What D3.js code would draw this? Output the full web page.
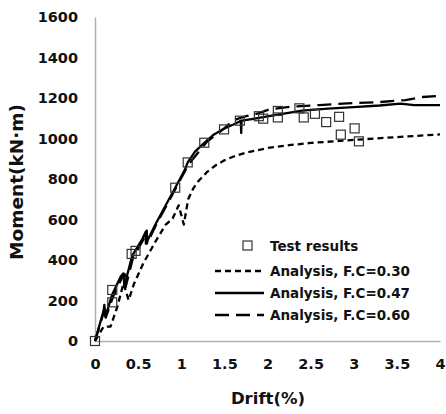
<!DOCTYPE html>
<html>
<head>
<meta charset="utf-8">
<script src="https://cdn.jsdelivr.net/npm/d3@7"></script>
<style>
  body { margin: 0; background: #fff; }
  text { font-family: "DejaVu Sans", sans-serif; font-weight: bold; fill: #111; }
</style>
</head>
<body>
<div id="chart"></div>
<script>
// test results (drift %, moment kN·m)
const testDrift  = [0, 0.2, 0.2, 0.425, 0.47, 0.93, 1.075, 1.267, 1.496, 1.68, 1.90, 1.95, 2.12, 2.12, 2.37, 2.42, 2.55, 2.68, 2.83, 2.85, 3.01, 3.06];
const testMoment = [0, 191, 252, 430, 445, 757, 882, 979, 1045, 1088, 1110, 1098, 1136, 1104, 1149, 1104, 1122, 1081, 1107, 1019, 1050, 986];

// analysis F.C=0.30
const fc30Drift  = [0, 0.1, 0.18, 0.26, 0.33, 0.39, 0.45, 0.56, 0.7, 0.82, 0.86, 0.9, 0.97, 1.03, 1.08, 1.14, 1.2, 1.3, 1.4, 1.5, 1.6, 1.75, 2.0, 2.25, 2.5, 3.0, 3.5, 4.0];
const fc30Moment = [0, 71, 71, 170, 285, 202, 280, 384, 490, 575, 590, 605, 670, 575, 700, 754, 790, 835, 868, 892, 910, 930, 953, 967, 978, 993, 1007, 1020];

// analysis F.C=0.47
const fc47Drift  = [0, 0.1, 0.108, 0.12, 0.2, 0.3, 0.33, 0.34, 0.43, 0.55, 0.588, 0.59, 0.7, 0.82, 0.93, 1.04, 1.075, 1.16, 1.267, 1.38, 1.5, 1.6, 1.68, 1.69, 1.695, 1.7, 1.8, 1.95, 2.12, 2.4, 2.7, 3.0, 3.3, 3.54, 3.7, 4.0];
const fc47Moment = [0, 150, 178, 120, 230, 320, 334, 270, 420, 505, 540, 480, 575, 670, 757, 844, 882, 935, 979, 1020, 1050, 1068, 1085, 1088, 1027, 1088, 1095, 1105, 1118, 1138, 1148, 1155, 1163, 1172, 1165, 1165];

// analysis F.C=0.60
const fc60Drift  = [0, 0.1, 0.112, 0.125, 0.21, 0.31, 0.345, 0.355, 0.44, 0.56, 0.6, 0.605, 0.71, 0.83, 0.94, 1.05, 1.1, 1.3, 1.5, 1.6, 1.75, 1.9, 2.03, 2.3, 2.6, 3.0, 3.3, 3.6, 3.8, 4.0];
const fc60Moment = [0, 140, 170, 115, 220, 310, 330, 265, 410, 500, 545, 482, 575, 670, 757, 845, 880, 985, 1050, 1090, 1110, 1125, 1145, 1158, 1165, 1175, 1180, 1190, 1205, 1210];

const xTicks = [0, 0.5, 1, 1.5, 2, 2.5, 3, 3.5, 4];
const yTicks = [0, 200, 400, 600, 800, 1000, 1200, 1400, 1600];

const legendLabels = ["Test results", "Analysis, F.C=0.30", "Analysis, F.C=0.47", "Analysis, F.C=0.60"];

const width = 446, height = 414;
const svg = d3.select("#chart").append("svg")
    .attr("width", width)
    .attr("height", height);

const x = d3.scaleLinear().domain([0, 4]).range([95, 440]);
const y = d3.scaleLinear().domain([0, 1600]).range([341, 17]);

// axes
const yAxis = svg.append("g")
    .attr("transform", "translate(95,0)")
    .call(d3.axisLeft(y).tickValues(yTicks).tickSize(0).tickPadding(17).tickFormat(d3.format("d")));
const xAxis = svg.append("g")
    .attr("transform", "translate(0,341)")
    .call(d3.axisBottom(x).tickValues(xTicks).tickSize(0).tickPadding(18).tickFormat(d => String(d)));
[xAxis, yAxis].forEach(g => {
    g.select(".domain").attr("stroke", "#b0b0b0").attr("stroke-width", 1.5);
    g.selectAll("text").style("font-size", "14.5px").style("font-family", "DejaVu Sans").style("font-weight", "bold").attr("fill", "#111");
});

svg.append("text")
    .attr("transform", "translate(23,182) rotate(-90)")
    .attr("text-anchor", "middle")
    .style("font-size", "18.5px")
    .text("Moment(kN·m)");

svg.append("text")
    .attr("x", 268)
    .attr("y", 404)
    .attr("text-anchor", "middle")
    .style("font-size", "16.5px")
    .text("Drift(%)");

// analysis curves
const series = [
    { drift: fc30Drift, moment: fc30Moment, dash: "6,4" },
    { drift: fc47Drift, moment: fc47Moment, dash: null },
    { drift: fc60Drift, moment: fc60Moment, dash: "14,7" }
];
const line = d3.line().x(d => x(d[0])).y(d => y(d[1]));

series.forEach(s => {
    svg.append("path")
        .datum(d3.zip(s.drift, s.moment))
        .attr("d", line)
        .attr("fill", "none")
        .attr("stroke", "#000")
        .attr("stroke-width", 2.3)
        .attr("stroke-linejoin", "round")
        .attr("stroke-dasharray", s.dash);
});

// test points
svg.selectAll(".pt")
    .data(d3.zip(testDrift, testMoment))
    .enter()
    .append("rect")
    .attr("class", "pt")
    .attr("x", d => x(d[0]) - 4.5)
    .attr("y", d => y(d[1]) - 4.5)
    .attr("width", 9)
    .attr("height", 9)
    .attr("fill", "none")
    .attr("stroke", "#333")
    .attr("stroke-width", 1.2);

// legend
const lg = svg.append("g");
lg.append("rect")
    .attr("x", 243).attr("y", 241)
    .attr("width", 9).attr("height", 9)
    .attr("fill", "#fff").attr("stroke", "#333").attr("stroke-width", 1.2);
const rowsY = [246, 271, 293, 315];
rowsY.forEach((ry, i) => {
    lg.append("text")
        .attr("x", 270)
        .attr("y", ry)
        .attr("dy", "0.35em")
        .style("font-size", "13.5px")
        .text(legendLabels[i]);
    if (i > 0) {
        const s = series[i - 1];
        lg.append("line")
            .attr("x1", 215).attr("x2", 264)
            .attr("y1", ry).attr("y2", ry)
            .attr("stroke", "#000")
            .attr("stroke-width", 2.3)
            .attr("stroke-dasharray", s.dash);
    }
});
</script>
</body>
</html>
